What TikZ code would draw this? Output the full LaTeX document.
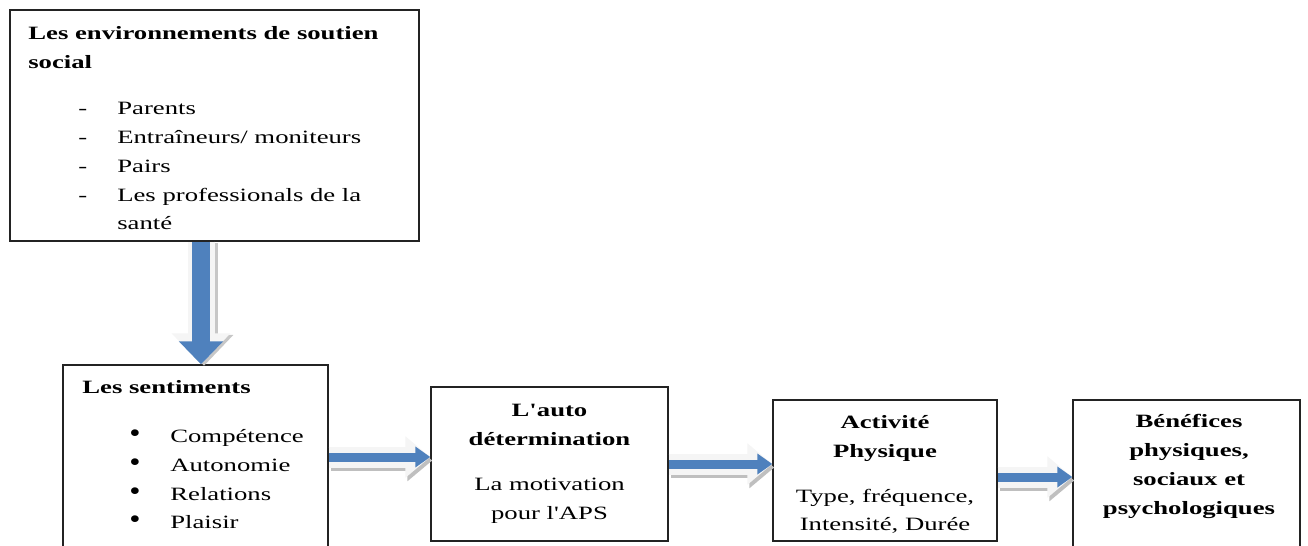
\documentclass[tikz,border=0pt]{standalone}
\usepackage{fontspec}
\setmainfont{Liberation Serif}[Ligatures=TeXOff, FakeStretch=1.42]
\usepackage{tikz}
\usetikzlibrary{arrows.meta}
\definecolor{arrowblue}{RGB}{79,129,189}
\definecolor{boxline}{RGB}{35,35,35}

\begin{document}
\begin{tikzpicture}[x=0.02cm, y=-0.02cm,
  box/.style={draw=boxline, line width=0.8pt, rectangle, inner sep=0pt},
  txt/.style={inner sep=0pt, font=\fontsize{10.7}{16.4}\selectfont},
  btxt/.style={inner sep=0pt, font=\fontsize{10.7}{16.4}\selectfont\bfseries},
  hflow/.style={draw=arrowblue, line width=0.18cm, -{Triangle[length=0.3cm, width=0.4cm]},
    preaction={draw=black!25, line width=0.42cm, -{Triangle[length=0.5cm, width=0.8cm]}, transform canvas={shift={(0.04cm,-0.07cm)}}},
    preaction={draw=black!4, line width=0.42cm, -{Triangle[length=0.5cm, width=0.8cm]}}},
  vflow/.style={draw=arrowblue, line width=0.36cm, -{Triangle[length=0.46cm, width=0.86cm]},
    preaction={draw=black!22, line width=0.54cm, -{Triangle[length=0.62cm, width=1.14cm]}, transform canvas={shift={(0.06cm,-0.03cm)}}},
    preaction={draw=black!4, line width=0.54cm, -{Triangle[length=0.62cm, width=1.14cm]}}}]

  \useasboundingbox (0,0) rectangle (1308,545);

  \node[box, minimum width=8.18cm, minimum height=4.62cm] (envbox) at (214.5,125.5) {};
  \node[box, minimum width=5.30cm, minimum height=3.68cm] (feelbox) at (195.5,457) {};
  \node[box, minimum width=4.74cm, minimum height=3.08cm] (autobox) at (549.5,464) {};
  \node[box, minimum width=4.48cm, minimum height=2.82cm] (actbox) at (885,470.5) {};
  \node[box, minimum width=4.54cm, minimum height=3.08cm] (benbox) at (1186.5,477) {};

  \node[btxt, anchor=north west, align=left] (envtitle) at (28,26) {Les environnements de soutien\\social};
  \node[txt, anchor=north west, align=left] (envlist) at (78,102) {
    \makebox[0.78cm][l]{-}Parents\\
    \makebox[0.78cm][l]{-}Entraîneurs/ moniteurs\\
    \makebox[0.78cm][l]{-}Pairs\\
    \makebox[0.78cm][l]{-}Les professionals de la\\
    \hspace*{0.78cm}santé};

  \node[btxt, anchor=north west] (feeltitle) at (82,380) {Les sentiments};
  \node[txt, anchor=north west, align=left] (feellist) at (129,429) {
    \makebox[0.82cm][l]{\smash{\scalebox{1.2}[1.5]{\textbullet}}}Compétence\\
    \makebox[0.82cm][l]{\smash{\scalebox{1.2}[1.5]{\textbullet}}}Autonomie\\
    \makebox[0.82cm][l]{\smash{\scalebox{1.2}[1.5]{\textbullet}}}Relations\\
    \makebox[0.82cm][l]{\smash{\scalebox{1.2}[1.5]{\textbullet}}}Plaisir};

  \node[txt, anchor=north, align=center] (autotxt) at (549.5,404) {\textbf{L'auto}\\\textbf{détermination}\\[0.32cm]La motivation\\pour l'APS};
  \node[txt, anchor=north, align=center] (acttxt) at (885,415) {\textbf{Activité}\\\textbf{Physique}\\[0.32cm]Type, fréquence,\\Intensité, Durée};
  \node[btxt, anchor=north, align=center] (bentxt) at (1189,414) {Bénéfices\\physiques,\\sociaux et\\psychologiques};

  \coordinate (downtop) at ([xshift=-0.27cm]envbox.south);
  \draw[vflow] (downtop) -- (downtop |- feelbox.north);
  \draw[hflow] (feelbox.east) -- (autobox.west |- feelbox.east);
  \draw[hflow] (autobox.east) -- (actbox.west |- autobox.east);
  \draw[hflow] (actbox.east |- benbox.west) -- (benbox.west);
\end{tikzpicture}
\end{document}
